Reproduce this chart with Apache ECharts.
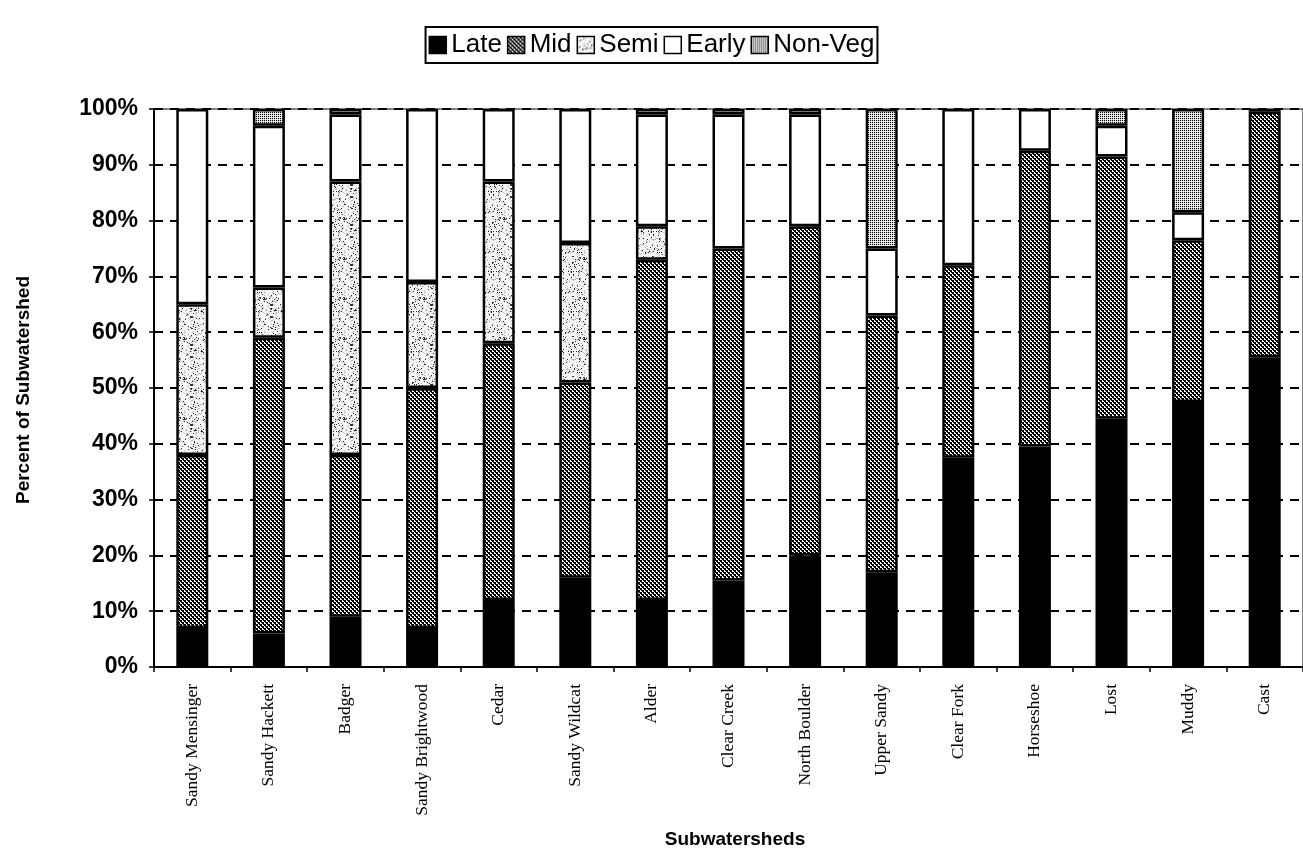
<!DOCTYPE html>
<html>
<head>
<meta charset="utf-8">
<script src="https://cdn.jsdelivr.net/npm/echarts@6/dist/echarts.min.js"></script>
<style>
  html, body { margin: 0; padding: 0; background: #fff; }
  #chart { width: 1303px; height: 849px; }
</style>
</head>
<body>
<div id="chart"></div>
<script>
// ---- data ----
const categories = ['Sandy Mensinger', 'Sandy Hackett', 'Badger', 'Sandy Brightwood', 'Cedar',
  'Sandy Wildcat', 'Alder', 'Clear Creek', 'North Boulder', 'Upper Sandy', 'Clear Fork',
  'Horseshoe', 'Lost', 'Muddy', 'Cast'];
const seriesNames = ['Late', 'Mid', 'Semi', 'Early', 'Non-Veg'];
const late   = [7, 6, 9, 7, 12, 16, 12, 15.5, 20, 17, 37.5, 39.5, 44.5, 47.5, 55.5];
const mid    = [31, 53, 29, 43, 46, 35, 61, 59.5, 59, 46, 34.5, 53, 47, 29, 44];
const semi   = [27, 9, 49, 19, 29, 25, 6, 0, 0, 0, 0, 0, 0, 0, 0];
const early  = [35, 29, 12, 31, 13, 24, 20, 24, 20, 12, 28, 7.5, 5.5, 5, 0.5];
const nonVeg = [0, 3, 1, 0, 0, 0, 1, 1, 1, 25, 0, 0, 3, 18.5, 0];
const yTickLabels = ['0%', '10%', '20%', '30%', '40%', '50%', '60%', '70%', '80%', '90%', '100%'];

// ---- fill patterns ----
function makeTile(w, h, draw) {
  const c = document.createElement('canvas');
  c.width = w; c.height = h;
  const ctx = c.getContext('2d');
  draw(ctx, w, h);
  return { image: c, repeat: 'repeat' };
}
const midFill = makeTile(4, 4, (ctx) => {
  ctx.fillStyle = '#ffffff'; ctx.fillRect(0, 0, 4, 4);
  ctx.fillStyle = '#000000';
  ctx.fillRect(0, 0, 2, 2); ctx.fillRect(2, 2, 2, 2);
  ctx.fillRect(1, 2, 1, 1); ctx.fillRect(3, 0, 1, 1);
});
const nonVegFill = makeTile(2, 2, (ctx) => {
  ctx.fillStyle = '#d9d9d9'; ctx.fillRect(0, 0, 2, 2);
  ctx.fillStyle = '#000000';
  ctx.fillRect(0, 0, 1, 1);
  ctx.fillStyle = '#ffffff';
  ctx.fillRect(1, 1, 1, 1);
});
const semiFill = makeTile(40, 40, (ctx, w, h) => {
  ctx.fillStyle = '#f6f6f6'; ctx.fillRect(0, 0, w, h);
  let s = 12345;
  const rnd = () => { s = (s * 1103515245 + 12345) % 2147483648; return s / 2147483648; };
  for (let y = 0; y < h; y++) {
    for (let x = 0; x < w; x++) {
      const r = rnd();
      if (r < 0.07) { ctx.fillStyle = '#222'; ctx.fillRect(x, y, 1, 1); }
      else if (r < 0.2) { ctx.fillStyle = '#b8b8b8'; ctx.fillRect(x, y, 1, 1); }
    }
  }
  for (let k = 0; k < 5; k++) {
    ctx.fillStyle = '#333';
    ctx.fillRect(Math.floor(rnd() * (w - 3)), Math.floor(rnd() * (h - 2)), 2 + Math.floor(rnd() * 2), 1 + Math.floor(rnd() * 2));
  }
});
const fills = [ '#000000', midFill, semiFill, '#ffffff', nonVegFill ];
const dataSets = [late, mid, semi, early, nonVeg];

const chart = echarts.init(document.getElementById('chart'), null, { renderer: 'canvas' });

const series = seriesNames.map((name, i) => ({
  name: name,
  type: 'bar',
  stack: 'total',
  barWidth: 32,
  data: dataSets[i].map(v => (v === 0 ? null : v)),
  itemStyle: { color: fills[i], borderColor: '#000', borderWidth: 2.5 },
  emphasis: { disabled: true },
  animation: false
}));

chart.setOption({
  backgroundColor: '#ffffff',
  animation: false,
  legend: {
    data: seriesNames,
    left: 'center',
    top: 27,
    orient: 'horizontal',
    itemWidth: 17,
    itemHeight: 17,
    itemGap: 5,
    padding: [5, 3],
    borderColor: '#000',
    borderWidth: 2,
    icon: 'rect',
    itemStyle: { borderColor: '#000', borderWidth: 1.5 },
    textStyle: { fontFamily: 'Liberation Sans, Arial, sans-serif', fontSize: 26, color: '#000' }
  },
  grid: {
    left: 154, top: 109, width: 1162, height: 558,
    show: true, borderColor: '#000', borderWidth: 1, backgroundColor: 'transparent'
  },
  xAxis: {
    type: 'category',
    data: categories,
    axisLine: { show: true, lineStyle: { color: '#000', width: 2 } },
    axisTick: { show: true, length: 5, lineStyle: { color: '#000', width: 1.5 } },
    axisLabel: {
      rotate: 90, margin: 17, interval: 0,
      fontFamily: 'Liberation Serif, Times New Roman, serif', fontSize: 17.5, color: '#000'
    },
    splitLine: { show: false }
  },
  yAxis: {
    type: 'value',
    min: 0, max: 100, interval: 10,
    axisLine: { show: true, lineStyle: { color: '#000', width: 2 } },
    axisTick: { show: true, length: 5, lineStyle: { color: '#000', width: 1.5 } },
    axisLabel: {
      margin: 16,
      formatter: (v) => yTickLabels[Math.round(v / 10)],
      fontFamily: 'Liberation Sans, Arial, sans-serif', fontWeight: 'bold', fontSize: 23, color: '#000'
    },
    splitLine: { show: true, lineStyle: { color: '#000', width: 2, type: [9, 7] } }
  },
  graphic: [
    {
      type: 'text',
      x: 24, y: 390,
      rotation: Math.PI / 2,
      style: {
        text: 'Percent of Subwatershed',
        x: 0, y: 0,
        align: 'center', verticalAlign: 'middle',
        font: 'bold 19px "Liberation Sans", Arial, sans-serif',
        fill: '#000'
      }
    },
    {
      type: 'text',
      x: 735, y: 840,
      style: {
        text: 'Subwatersheds',
        x: 0, y: 0,
        align: 'center', verticalAlign: 'middle',
        font: 'bold 19px "Liberation Sans", Arial, sans-serif',
        fill: '#000'
      }
    }
  ],
  series: series
});
</script>
</body>
</html>
